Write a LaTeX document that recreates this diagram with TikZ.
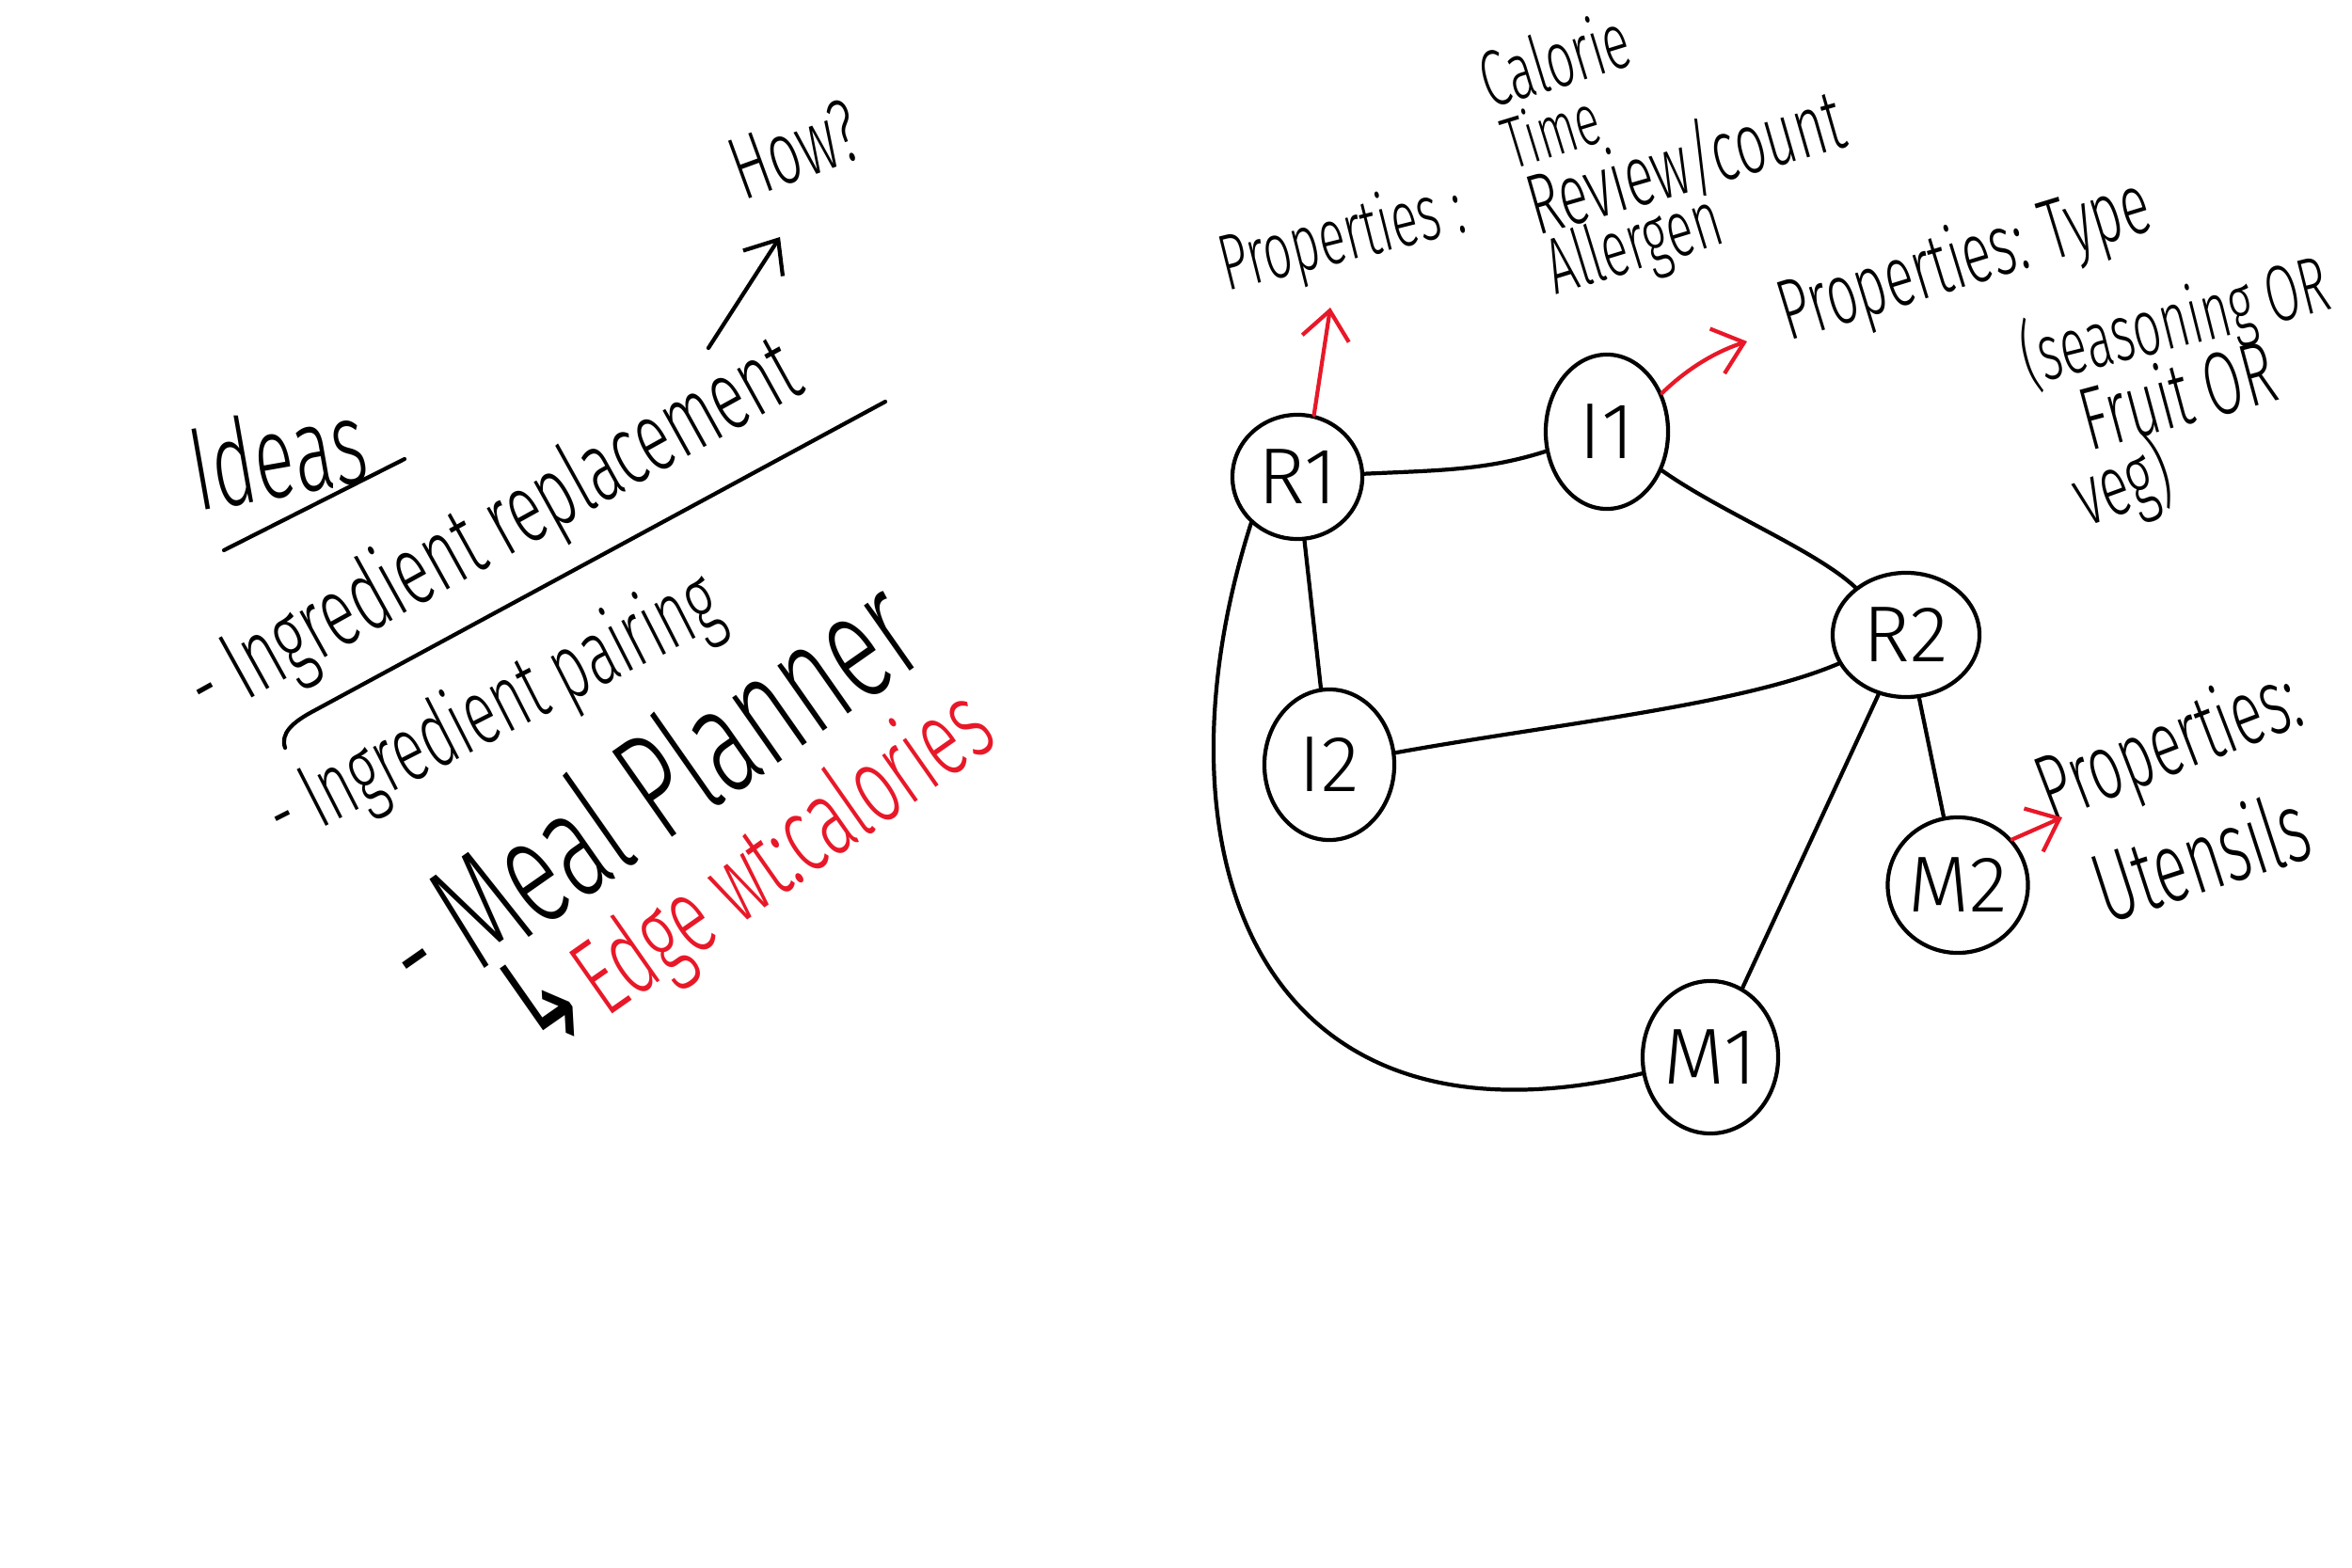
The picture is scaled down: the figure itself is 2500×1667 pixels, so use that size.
\documentclass[tikz,border=0pt]{standalone}
\usepackage{fontspec}
\setmainfont{Fira Sans}[UprightFont=* Light]
\newfontfamily\arrowfont{DejaVu Sans}
\usetikzlibrary{shapes.geometric,arrows.meta}
\definecolor{penred}{RGB}{232,24,40}
\newcommand\fsz[1]{\fontsize{#1pt}{#1pt}\selectfont}
\tikzset{
  pen/.style={line width=1.2pt,line cap=round},
  vert/.style={pen,ellipse,draw,inner sep=0pt,font=\fsz{24}},
  scrawl/.style 2 args={rotate=#1,xscale=.62,transform shape,inner sep=0pt,font=\fsz{#2}},
  barb/.style={-{Straight Barb[length=3mm,width=5mm]}},
}
\begin{document}
\begin{tikzpicture}[x=0.01cm,y=-0.01cm]
\useasboundingbox (0,0) rectangle (2500,1667);
% ideas list
\node[scrawl={10}{36}] (ideas) at (295,482) {Ideas};
\draw[pen] (238,585)--(430,488);
\node[scrawl={29}{30}] (replace) at (526,566) {- Ingredient replacement};
\draw[pen] (303,795) .. controls (298,780) and (310,768) .. (335,755)--(941,427);
\node[scrawl={27}{28}] (pairing) at (526,757) {- Ingredient pairing};
\node[scrawl={35}{46}] (planner) at (687,837) {- Meal Planner};
\node[scrawl={35}{40}] (hook) at (577,1062) {\arrowfont ↳};
\node[scrawl={35}{33},text=penred] (edgewt) at (836,910) {Edge wt:calories};
\node[scrawl={20}{27}] (how) at (845,159) {How?};
\coordinate (howtail) at (753,370);
\coordinate (howtip) at (829,252);
\draw[pen,barb] (howtail)--(howtip);
% graph
\node[vert,minimum width=1.38cm,minimum height=1.32cm] (r1) at (1379,507) {R1};
\node[vert,minimum width=1.30cm,minimum height=1.64cm] (i1) at (1708,459) {I1};
\node[vert,minimum width=1.56cm,minimum height=1.32cm] (r2) at (2026,675) {R2};
\node[vert,minimum width=1.38cm,minimum height=1.60cm] (i2) at (1413,813) {I2};
\node[vert,minimum width=1.20cm,minimum height=1.44cm] (m2) at (2081,941) {M2};
\node[vert,minimum width=1.44cm,minimum height=1.62cm] (m1) at (1818,1124) {M1};
\draw[pen] (r1) .. controls (1530,500) and (1580,500) .. (i1);
\draw[pen] (i1) .. controls (1830,545) and (1930,585) .. (r2);
\draw[pen] (r1)--(i2);
\draw[pen] (i2) .. controls (1650,770) and (1850,750) .. (r2);
\draw[pen] (r2)--(m1);
\draw[pen] (r2)--(m2);
\draw[pen] (r1.225) .. controls (1220,900) and (1330,1240) .. (m1);
% properties
\node[scrawl={14}{24}] (r1props) at (1427,255) {Properties :};
\node[scrawl={17}{24}] (calorie) at (1652,62) {Calorie};
\node[scrawl={17}{22}] (time) at (1648,138) {Time};
\node[scrawl={16}{26}] (review) at (1791,172) {Review/count};
\node[scrawl={17}{24}] (allergen) at (1738,264) {Allergen};
\node[scrawl={17}{26}] (i1props) at (2089,279) {Properties: Type};
\node[scrawl={14}{24}] (season) at (2312,343) {(seasoning OR};
\node[scrawl={15}{27}] (fruit) at (2314,418) {Fruit OR};
\node[scrawl={20}{26}] (veg) at (2256,516) {veg)};
\node[scrawl={21}{28}] (m2props) at (2307,796) {Properties:};
\node[scrawl={18}{30}] (utensils) at (2339,909) {Utensils};
\coordinate (r1tip) at (1414,327);
\coordinate (i1tip) at (1857,363);
\coordinate (m2tip) at (2192,869);
\draw[pen,penred,barb] (r1.75)--(r1tip);
\draw[pen,penred,barb] (i1.35) .. controls (1790,395) and (1820,375) .. (i1tip);
\draw[pen,penred,barb] (m2.40)--(m2tip);
\end{tikzpicture}
\end{document}
